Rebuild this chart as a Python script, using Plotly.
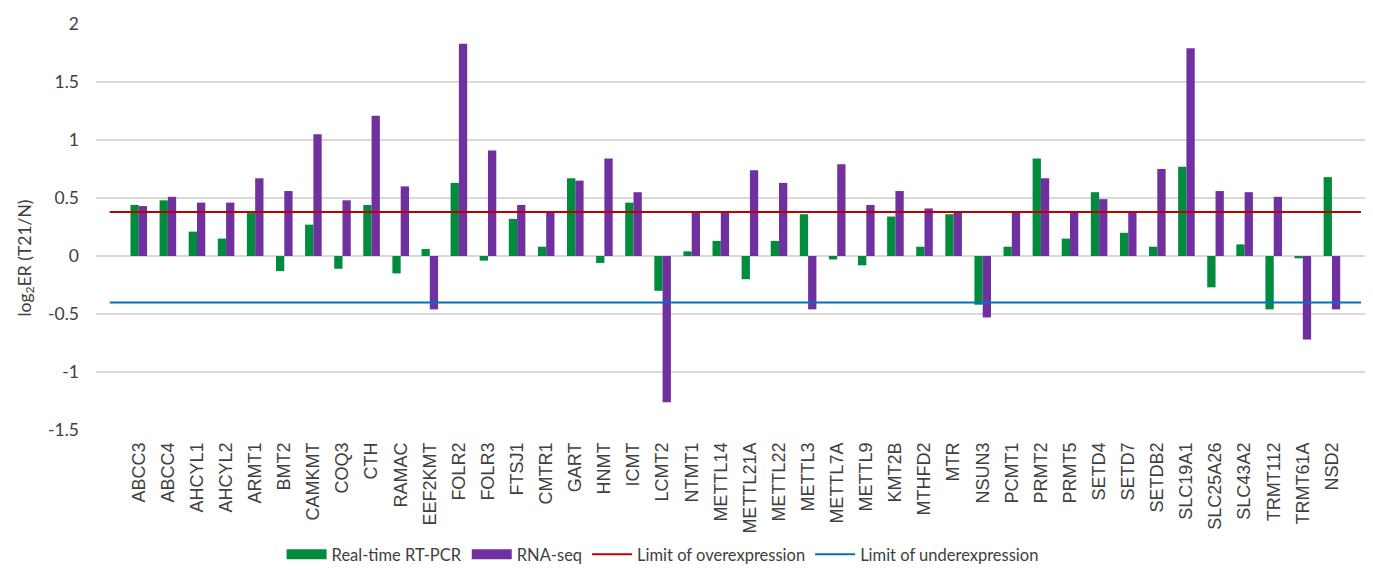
import plotly.graph_objects as go

genes = ["ABCC3", "ABCC4", "AHCYL1", "AHCYL2", "ARMT1", "BMT2", "CAMKMT", "COQ3", "CTH", "RAMAC",
         "EEF2KMT", "FOLR2", "FOLR3", "FTSJ1", "CMTR1", "GART", "HNMT", "ICMT", "LCMT2", "NTMT1",
         "METTL14", "METTL21A", "METTL22", "METTL3", "METTL7A", "METTL9", "KMT2B", "MTHFD2", "MTR", "NSUN3",
         "PCMT1", "PRMT2", "PRMT5", "SETD4", "SETD7", "SETDB2", "SLC19A1", "SLC25A26", "SLC43A2", "TRMT112",
         "TRMT61A", "NSD2"]

rt_pcr = [0.44, 0.48, 0.21, 0.15, 0.37, -0.13, 0.27, -0.11, 0.44, -0.15,
          0.06, 0.63, -0.04, 0.32, 0.08, 0.67, -0.06, 0.46, -0.30, 0.04,
          0.13, -0.20, 0.13, 0.36, -0.03, -0.08, 0.34, 0.08, 0.36, -0.42,
          0.08, 0.84, 0.15, 0.55, 0.20, 0.08, 0.77, -0.27, 0.10, -0.46,
          -0.02, 0.68]

rna_seq = [0.43, 0.51, 0.46, 0.46, 0.67, 0.56, 1.05, 0.48, 1.21, 0.60,
           -0.46, 1.83, 0.91, 0.44, 0.38, 0.65, 0.84, 0.55, -1.26, 0.38,
           0.38, 0.74, 0.63, -0.46, 0.79, 0.44, 0.56, 0.41, 0.38, -0.53,
           0.38, 0.67, 0.38, 0.49, 0.38, 0.75, 1.79, 0.56, 0.55, 0.51,
           -0.72, -0.46]

limit_over = 0.38
limit_under = -0.40

y_tickvals = [2, 1.5, 1, 0.5, 0, -0.5, -1, -1.5]
y_ticktext = ["2", "1.5", "1", "0.5", "0", "-0.5", "-1", "-1.5"]

GREEN = "#008C3C"
PURPLE = "#7030A0"
RED = "#C00000"
BLUE = "#0070C0"
TXT = "#404040"

n = len(genes)
idx = list(range(n))

fig = go.Figure()
fig.add_trace(go.Bar(x=idx, y=rt_pcr, name="Real-time RT-PCR", marker_color=GREEN,
                     marker_line_width=0, showlegend=False))
fig.add_trace(go.Bar(x=idx, y=rna_seq, name="RNA-seq", marker_color=PURPLE,
                     marker_line_width=0, showlegend=False))

line_x = [-1, n]
fig.add_trace(go.Scatter(x=line_x, y=[limit_over] * 2, mode="lines",
                         line=dict(color=RED, width=2), showlegend=False, hoverinfo="skip"))
fig.add_trace(go.Scatter(x=line_x, y=[limit_under] * 2, mode="lines",
                         line=dict(color=BLUE, width=2), showlegend=False, hoverinfo="skip"))

# legend entries
fig.add_trace(go.Scatter(x=[None], y=[None], mode="lines", name="Real-time RT-PCR",
                         line=dict(color=GREEN, width=10)))
fig.add_trace(go.Scatter(x=[None], y=[None], mode="lines", name="RNA-seq",
                         line=dict(color=PURPLE, width=10)))
fig.add_trace(go.Scatter(x=[None], y=[None], mode="lines", name="Limit of overexpression",
                         line=dict(color=RED, width=2)))
fig.add_trace(go.Scatter(x=[None], y=[None], mode="lines", name="Limit of underexpression",
                         line=dict(color=BLUE, width=2)))

fig.update_layout(
    width=1373, height=570,
    margin=dict(l=88, r=6, t=16, b=139),
    paper_bgcolor="white", plot_bgcolor="white",
    barmode="group", bargap=0.43, bargroupgap=0,
    font=dict(family="Lato", size=16, color=TXT),
    showlegend=True,
    legend=dict(orientation="h", x=0.443, xanchor="center", y=-0.307, yanchor="middle",
                font=dict(family="Lato", size=16.5, color=TXT), itemwidth=40,
                bgcolor="rgba(0,0,0,0)"),
    xaxis=dict(range=[-1.47, 42.48], tickmode="array", tickvals=idx, ticktext=genes,
               tickangle=-90, ticks="", showgrid=False, zeroline=False, showline=False,
               tickfont=dict(family="Liberation Sans", size=18, color=TXT),
               ticklabelstandoff=8),
    yaxis=dict(range=[-1.5, 2], tickmode="array", tickvals=y_tickvals, ticktext=y_ticktext,
               showgrid=True, gridcolor="#D9D9D9", gridwidth=1.5,
               zeroline=True, zerolinecolor="#D9D9D9", zerolinewidth=1.5,
               showline=False, ticks="",
               tickfont=dict(family="Lato", size=17.5, color=TXT),
               ticklabelstandoff=16),
    annotations=[dict(text="log<sub>2</sub>ER (T21/N)", textangle=-90, xref="paper", yref="paper",
                      x=-0.055, y=0.424, xanchor="center", yanchor="middle", showarrow=False,
                      font=dict(family="Lato", size=17.5, color=TXT))],
)

fig.write_html("out.html")
